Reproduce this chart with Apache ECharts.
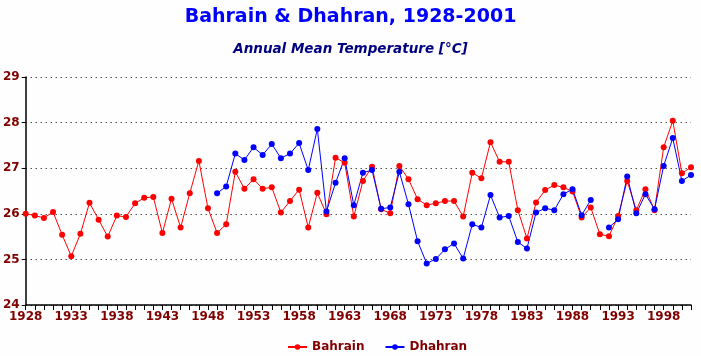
<!DOCTYPE html>
<html><head><meta charset="utf-8">
<script src="https://cdn.jsdelivr.net/npm/echarts@6/dist/echarts.min.js"></script>
<style>html,body{margin:0;padding:0;background:#fdfefd}#c{width:701px;height:356px}</style>
</head><body><div id="c"></div>
<script>
var years = [];
for (var y = 1928; y <= 2001; y++) years.push(String(y));
var bahrain = [26.00,25.96,25.91,26.04,25.54,25.07,25.56,26.24,25.87,25.50,
25.96,25.93,26.23,26.35,26.37,25.58,26.33,25.70,26.45,27.16,
26.12,25.58,25.77,26.92,26.55,26.76,26.55,26.58,26.03,26.28,
26.53,25.70,26.46,25.99,27.23,27.12,25.94,26.72,27.03,26.10,
26.01,27.05,26.76,26.32,26.19,26.23,26.28,26.28,25.94,26.90,
26.78,27.57,27.14,27.14,26.08,25.46,26.25,26.52,26.63,26.58,
26.49,25.92,26.14,25.55,25.51,25.95,26.72,26.08,26.54,26.08,
27.46,28.04,26.89,27.02];
var dhahran = [null,null,null,null,null,null,null,null,null,null,
null,null,null,null,null,null,null,null,null,null,
null,26.45,26.60,27.32,27.18,27.46,27.29,27.53,27.22,27.32,
27.55,26.96,27.86,26.05,26.68,27.22,26.19,26.90,26.96,26.11,
26.14,26.92,26.21,25.40,24.91,25.01,25.22,25.35,25.02,25.77,
25.70,26.41,25.92,25.95,25.38,25.24,26.03,26.12,26.08,26.43,
26.54,25.97,26.30,null,25.70,25.88,26.82,26.01,26.43,26.10,
27.05,27.66,26.72,26.85];
var titleText = 'Bahrain & Dhahran, 1928-2001';
var subtitleText = 'Annual Mean Temperature [°C]';
var lab = {color:'#800000', fontWeight:'bold', fontSize:12, fontFamily:'DejaVu Sans'};
var chart = echarts.init(document.getElementById('c'), null, {renderer:'canvas'});
chart.setOption({
  backgroundColor:'#fdfefd',
  animation:false,
  title:[
    {text:titleText, left:'center', top:3, textStyle:{color:'#0000ff', fontSize:19, fontWeight:'bold', fontFamily:'DejaVu Sans'}},
    {text:subtitleText, left:'center', top:37, textStyle:{color:'#000080', fontSize:13.5, fontWeight:'bold', fontStyle:'italic', fontFamily:'DejaVu Sans'}}
  ],
  legend:{top:336, left:282, itemGap:20, itemWidth:19, itemHeight:7,
    textStyle:lab, data:['Bahrain','Dhahran']},
  grid:{left:25, right:10, top:77, bottom:51, containLabel:false},
  xAxis:{type:'category', data:years, boundaryGap:false,
    axisLine:{lineStyle:{color:'#000', width:1.5}},
    axisTick:{interval:0, length:5, lineStyle:{color:'#000'}},
    axisLabel:Object.assign({interval:4, margin:6}, lab),
    splitLine:{show:false}},
  yAxis:{type:'value', min:24, max:29, interval:1,
    axisLine:{show:true, lineStyle:{color:'#000', width:1.5}},
    axisTick:{show:true, length:4, lineStyle:{color:'#000'}},
    axisLabel:Object.assign({margin:6}, lab),
    splitLine:{lineStyle:{color:'#000', type:[1,4], width:1}}},
  series:[
    {name:'Bahrain', type:'line', data:bahrain, symbol:'circle', symbolSize:6, showSymbol:true, showAllSymbol:true,
      itemStyle:{color:'#ff0000'}, lineStyle:{color:'#ff0000', width:1}},
    {name:'Dhahran', type:'line', data:dhahran, symbol:'circle', symbolSize:6, showSymbol:true, showAllSymbol:true,
      itemStyle:{color:'#0000ff'}, lineStyle:{color:'#0000ff', width:1}, connectNulls:false}
  ]
});
</script></body></html>
